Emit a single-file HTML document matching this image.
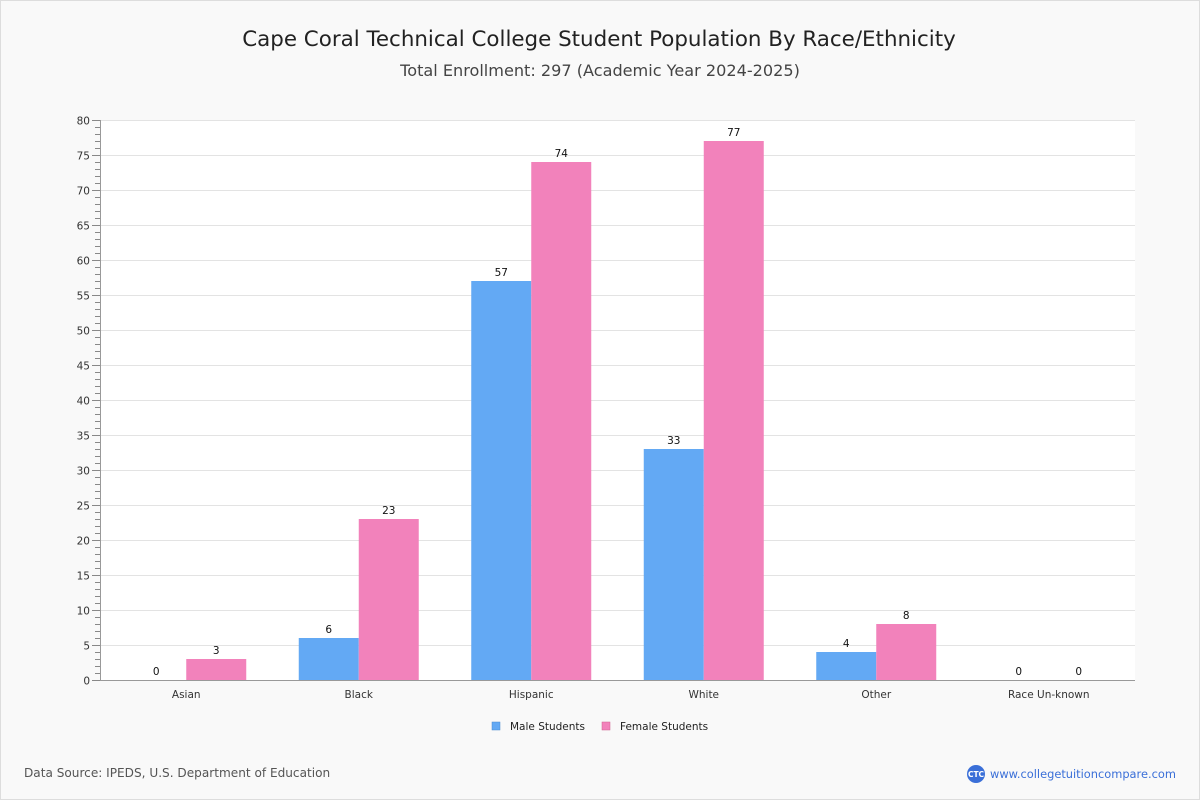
<!DOCTYPE html>
<html><head><meta charset="utf-8"><style>
body{margin:0;background:#fff;font-family:"DejaVu Sans","Liberation Sans",sans-serif}
#wrap{position:relative;width:1198px;height:798px;border:1px solid #ddd;background:#f9f9f9}
svg{position:absolute;left:-1px;top:-1px}
</style></head><body>
<div id="wrap">
<svg id="c" width="1200" height="800">
<text x="599" y="46" text-anchor="middle" font-size="21.4" fill="#222">Cape Coral Technical College Student Population By Race/Ethnicity</text>
<text x="600" y="76" text-anchor="middle" font-size="16.1" fill="#444">Total Enrollment: 297 (Academic Year 2024-2025)</text>
<rect x="100" y="120" width="1035" height="560" fill="#fff"/>
<g id="grid"></g><g id="bars"></g>
<g>
<rect x="492" y="722" width="8" height="8" fill="#63a9f4" stroke="#4a8ad0" stroke-width="0.5"/>
<text x="510" y="730" font-size="10.5" fill="#222">Male Students</text>
<rect x="602" y="722" width="8" height="8" fill="#f282bb" stroke="#d06090" stroke-width="0.5"/>
<text x="620" y="730" font-size="10.5" fill="#222">Female Students</text>
</g>
<text x="24" y="777" font-size="12.1" fill="#555">Data Source: IPEDS, U.S. Department of Education</text>
<circle cx="976" cy="774" r="9" fill="#3a6fd8"/>
<text x="976" y="777" text-anchor="middle" font-size="7.5" fill="#fff" font-weight="bold">CTC</text>
<text x="990" y="778" font-size="11.4" fill="#3a6fd8">www.collegetuitioncompare.com</text>
</svg></div>
<script>
const categories=["Asian","Black","Hispanic","White","Other","Race Un-known"];
const maleValues=[0,6,57,33,4,0];
const femaleValues=[3,23,74,77,8,0];
const yTicks=[0,5,10,15,20,25,30,35,40,45,50,55,60,65,70,75,80];
const NS="http://www.w3.org/2000/svg";
const x0=100,x1=1135,yTop=120,yBot=680,yMax=80;
const y=v=>yBot-(v/yMax)*(yBot-yTop);
const band=(x1-x0)/categories.length;
const xc=i=>x0+band*(i+0.5);
function mk(tag,attrs,parent,txt){const e=document.createElementNS(NS,tag);for(const k in attrs)e.setAttribute(k,attrs[k]);if(txt!==undefined)e.textContent=txt;parent.appendChild(e);return e;}
const g=document.getElementById('grid'),b=document.getElementById('bars');
for(let v=0;v<=yMax;v++){const yy=y(v)+0.5;mk('line',{x1:95,x2:100,y1:yy,y2:yy,stroke:'#888','stroke-width':1},g);}
yTicks.forEach(v=>{const yy=y(v)+0.5;
 if(v>0){const l=mk('line',{x1:100,x2:x1,y1:yy,y2:yy,stroke:'#e3e3e3','stroke-width':1},g);
 
 }
 mk('line',{x1:92,x2:100,y1:yy,y2:yy,stroke:'#888','stroke-width':1},g);
 const t=mk('text',{x:90,y:yy+4,'text-anchor':'end','font-size':10.5,fill:'#333'},g,v);
 
 });
mk('line',{x1:100.5,x2:100.5,y1:yTop,y2:yBot,stroke:'#999'},g);
mk('line',{x1:100,x2:x1,y1:yBot+0.5,y2:yBot+0.5,stroke:'#999'},g);
const bw=60;
categories.forEach((c,i)=>{const cx=xc(i);
 const t=mk('text',{x:cx,y:698,'text-anchor':'middle','font-size':10.5,fill:'#333'},b,c);
 
 
 [[maleValues[i],cx-bw,'#63a9f4','male'],[femaleValues[i],cx,'#f282bb','female']].forEach(([v,bx,col,s])=>{
  const r=mk('rect',{x:bx,y:y(v),width:bw,height:yBot-y(v),fill:col},b);
  
  
  const l=mk('text',{x:bx+bw/2,y:y(v)-5,'text-anchor':'middle','font-size':10.5,fill:'#111'},b,v);
  
  
 });});
</script>
</body></html>
